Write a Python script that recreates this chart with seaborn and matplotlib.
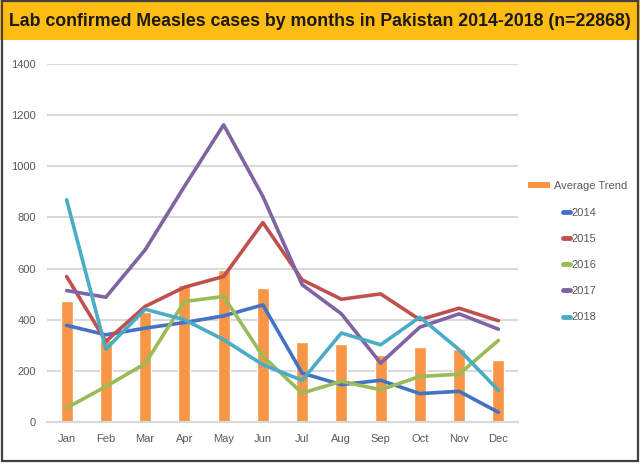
import matplotlib
matplotlib.use("Agg")
import matplotlib.pyplot as plt
from matplotlib.patches import Rectangle, Patch
from matplotlib.lines import Line2D
import seaborn as sns
import pandas as pd

months = ["Jan", "Feb", "Mar", "Apr", "May", "Jun", "Jul", "Aug", "Sep", "Oct", "Nov", "Dec"]
average_trend = [475, 320, 430, 537, 595, 523, 311, 306, 263, 293, 285, 243]
y2014 = [378, 341, 367, 389, 415, 458, 191, 146, 163, 111, 120, 38]
y2015 = [569, 315, 452, 527, 569, 780, 556, 480, 501, 400, 445, 396]
y2016 = [55, 139, 228, 471, 491, 257, 113, 159, 126, 178, 187, 319]
y2017 = [514, 488, 673, 921, 1162, 882, 537, 423, 230, 371, 423, 363]
y2018 = [869, 285, 441, 400, 322, 224, 163, 348, 302, 410, 283, 124]
years = ["2014", "2015", "2016", "2017", "2018"]
colors = ["#4472C4", "#C0504D", "#9BBB59", "#8064A2", "#4BACC6"]
bar_color = "#F79646"
title = "Lab confirmed Measles cases by months in Pakistan 2014-2018 (n=22868)"

sns.set_theme(style="white")
plt.rcParams["font.family"] = ["Liberation Sans", "DejaVu Sans"]

fig = plt.figure(figsize=(6.4, 4.65), dpi=100)
fig.patch.set_facecolor("white")

# banner
fig.patches.append(Rectangle((0, 1 - 40 / 465), 1, 40 / 465, transform=fig.transFigure,
                             facecolor="#FFBC12", edgecolor="none", zorder=0))
fig.text(0.5, 1 - 21 / 465, title, ha="center", va="center", fontsize=12.8,
         color="#1a1a1a", fontweight="bold")
# frame border
fig.patches.append(Rectangle((1.5 / 640, 4 / 465), 636 / 640, 1 - 4 / 465 - 1 / 465,
                             transform=fig.transFigure, facecolor="none",
                             edgecolor="#404040", linewidth=1.6, zorder=5))

ax = fig.add_axes([47 / 640, 1 - 422 / 465, (518 - 47) / 640, (422 - 64) / 465])

df_bar = pd.DataFrame({"month": months, "value": average_trend})
sns.barplot(data=df_bar, x="month", y="value", color=bar_color, width=0.31,
            saturation=1, ax=ax, zorder=2)

series = {"2014": y2014, "2015": y2015, "2016": y2016, "2017": y2017, "2018": y2018}
df_lines = pd.DataFrame([
    {"month": m, "value": v, "year": yr}
    for yr, vals in series.items() for m, v in zip(months, vals)
])
sns.lineplot(data=df_lines, x="month", y="value", hue="year", palette=colors,
             hue_order=years, sort=False, linewidth=2.6, ax=ax, legend=False, zorder=3)

ax.set_xlim(-0.5, 11.5)
ax.set_ylim(0, 1400)
ax.set_yticks(range(0, 1401, 200))
ax.yaxis.grid(True, color="#D9D9D9", linewidth=1.5, zorder=0)
ax.set_axisbelow(True)
for s in ["top", "right", "left"]:
    ax.spines[s].set_visible(False)
ax.spines["bottom"].set_color("#D9D9D9")
ax.spines["bottom"].set_linewidth(1.5)
ax.set_xlabel("")
ax.set_ylabel("")
ax.tick_params(axis="y", length=0, pad=8, labelsize=8, labelcolor="#595959")
ax.tick_params(axis="x", length=0, pad=9, labelsize=8, labelcolor="#595959")

leg1 = fig.legend(handles=[Patch(facecolor=bar_color, edgecolor="none")],
                  labels=["Average Trend"], loc="center left",
                  bbox_to_anchor=(518 / 640, 1 - 186 / 465), frameon=False,
                  fontsize=8, handlelength=2.0, handleheight=0.55, handletextpad=0.3,
                  labelcolor="#595959")
handles = [Line2D([0], [0], color=c, linewidth=3.5) for c in colors]
leg2 = fig.legend(handles=handles, labels=years, loc="upper left",
                  bbox_to_anchor=(553 / 640, 1 - 198 / 465), frameon=False,
                  fontsize=8, handlelength=0.6, handletextpad=0.2, labelspacing=1.45,
                  labelcolor="#595959")

fig.savefig("out.png", dpi=100, facecolor="white")
